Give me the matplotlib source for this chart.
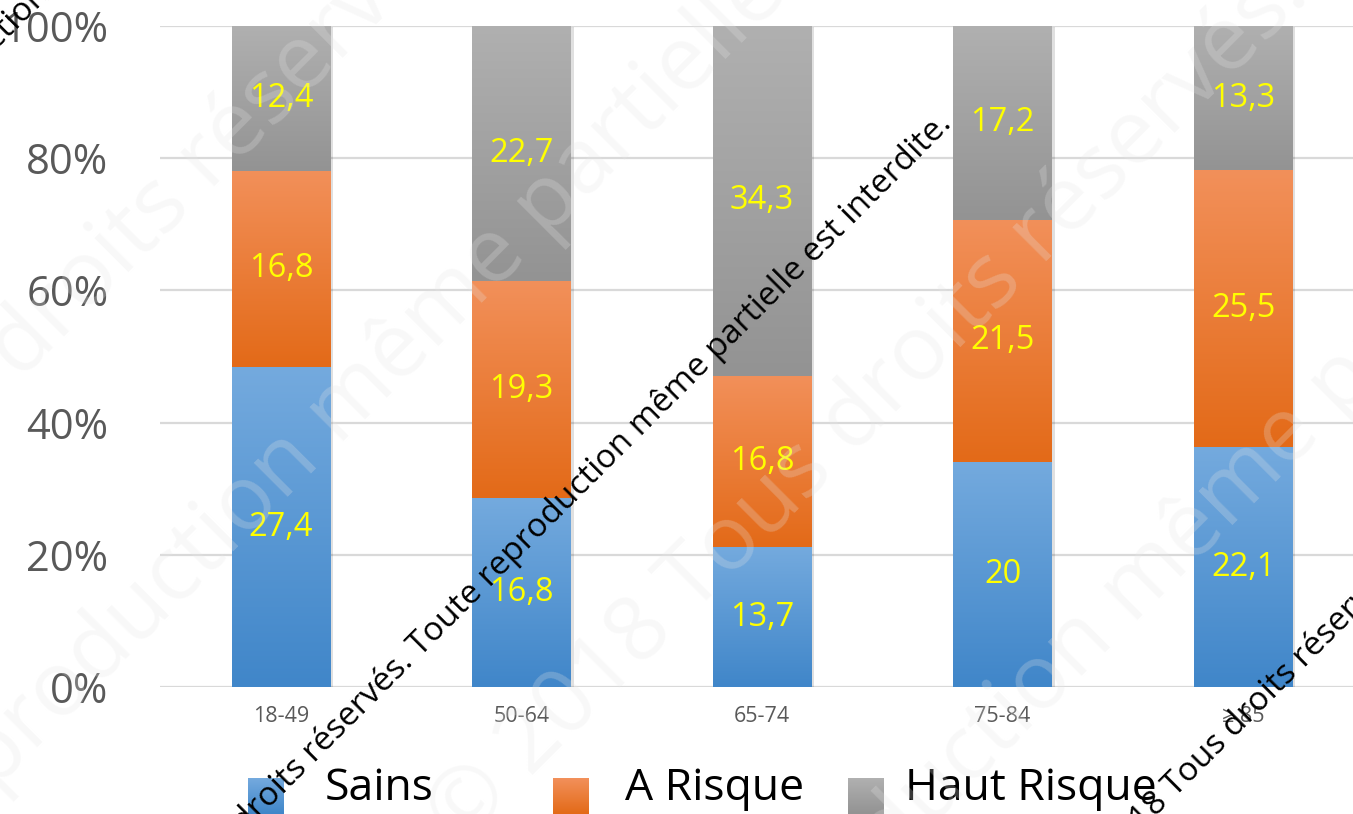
import numpy as np
import matplotlib.pyplot as plt
import matplotlib.patheffects as pe
from matplotlib.colors import LinearSegmentedColormap, to_rgb
from matplotlib.font_manager import FontProperties
from matplotlib.textpath import text_to_path

plt.rcParams['font.family'] = ['Open Sans', 'DejaVu Sans']

# --- données ---
categories = ['18-49', '50-64', '65-74', '75-84', '≥ 85']
series = ['Sains', 'A Risque', 'Haut Risque']
sains = [27.4, 16.8, 13.7, 20, 22.1]
a_risque = [16.8, 19.3, 16.8, 21.5, 25.5]
haut_risque = [12.4, 22.7, 34.3, 17.2, 13.3]
y_ticks = [0, 20, 40, 60, 80, 100]

# dégradé (haut, bas) de chaque série
gradients = [('#74aade', '#4086c9'), ('#f2905a', '#e36a18'), ('#b0b0b0', '#939393')]
WATERMARK = '© 2018 Tous droits réservés. Toute reproduction même partielle est interdite.'

W, H, DPI = 1353, 814, 100

values = np.array([sains, a_risque, haut_risque], dtype=float)
shares = values / values.sum(axis=0) * 100
x = np.arange(len(categories))


def gradient_fill(ax, patch, top, bottom):
    cmap = LinearSegmentedColormap.from_list('grad', [bottom, top])
    x0, y0 = patch.get_x(), patch.get_y()
    img = ax.imshow(np.linspace(0, 1, 256).reshape(-1, 1), cmap=cmap, origin='lower',
                    extent=[x0, x0 + patch.get_width(), y0, y0 + patch.get_height()],
                    aspect='auto', interpolation='bicubic', zorder=2.5)
    img.set_clip_path(patch)


def diagonal_text(fig, text, word, pos, size, angle, **kw):
    # place le texte pour que `word` commence au point pos (pixels, origine en haut)
    fp = FontProperties(family='Open Sans', size=size)
    prefix = text[:text.index(word)]
    w = text_to_path.get_text_width_height_descent(prefix, fp, ismath=False)[0] * DPI / 72
    a = np.radians(angle)
    sx = pos[0] - w * np.cos(a)
    sy = (H - pos[1]) - w * np.sin(a)
    fig.text(sx / W, sy / H, text, fontproperties=fp, rotation=angle,
             rotation_mode='anchor', ha='left', va='baseline', **kw)


fig = plt.figure(figsize=(W / DPI, H / DPI), dpi=DPI)
ax = fig.add_axes([160 / W, 1 - 687 / H, 1 - 160 / W, (687 - 26) / H])

bottom = np.zeros(len(categories))
for i, name in enumerate(series):
    bars = ax.bar(x, shares[i], 0.41, bottom=bottom, color=gradients[i][1], zorder=2,
                  path_effects=[pe.withSimplePatchShadow(offset=(2, -1), shadow_rgbFace='k', alpha=0.12)])
    for bar, raw, share, base in zip(bars, values[i], shares[i], bottom):
        gradient_fill(ax, bar, *gradients[i])
        ax.text(bar.get_x() + bar.get_width() / 2, base + share / 2,
                f'{raw:g}'.replace('.', ','), ha='center', va='center',
                color='#ffff00', fontsize=23.5, zorder=4)
    bottom += shares[i]

ax.set_xlim(-0.503, 4.457)
ax.set_ylim(0, 100)
ax.set_yticks(y_ticks)
ax.set_yticklabels([f'{t}%' for t in y_ticks], fontsize=30, color='#595959')
ax.set_xticks(x)
ax.set_xticklabels(categories, fontsize=15.5, color='#595959')
ax.tick_params(axis='y', length=0, pad=37)
ax.tick_params(axis='x', length=0, pad=14)
ax.yaxis.grid(True, color='#d9d9d9', lw=1.6)
ax.set_axisbelow(True)
for s in ax.spines.values():
    s.set_visible(False)

# légende en bas (coupée par le bord)
for name, (top, bot), sq_x, tx in zip(series, gradients, [248, 553, 848], [325, 625, 905]):
    t = np.linspace(0, 1, 36)[:, None, None]
    grad = np.array(to_rgb(top)) * (1 - t) + np.array(to_rgb(bot)) * t
    fig.figimage(np.repeat(grad, 36, axis=1), xo=sq_x, yo=0, origin='upper', zorder=3)
    fig.text(tx / W, 1 - 800 / H, name, fontsize=32, color='black', va='baseline', ha='left')

# filigrane pâle
faint = dict(color='#e6e6e6', alpha=0.25, zorder=5)
diagonal_text(fig, WATERMARK, 'droits', (20, 380), 65, 45, **faint)
diagonal_text(fig, WATERMARK, 'partielle', (545, 240), 65, 45, **faint)
diagonal_text(fig, WATERMARK, 'droits', (852, 455), 65, 45, **faint)
diagonal_text(fig, WATERMARK, 'même', (1133, 625), 65, 45, **faint)

# filigrane noir
dark = dict(color='black', zorder=6)
diagonal_text(fig, WATERMARK, 'ction', (-5, 52), 24, 45, **dark)
diagonal_text(fig, WATERMARK, 'Toute', (420, 658), 24, 45, **dark)
diagonal_text(fig, WATERMARK, 'Tous', (1175, 798), 24, 45, **dark)

fig.savefig('out.png', dpi=DPI)
